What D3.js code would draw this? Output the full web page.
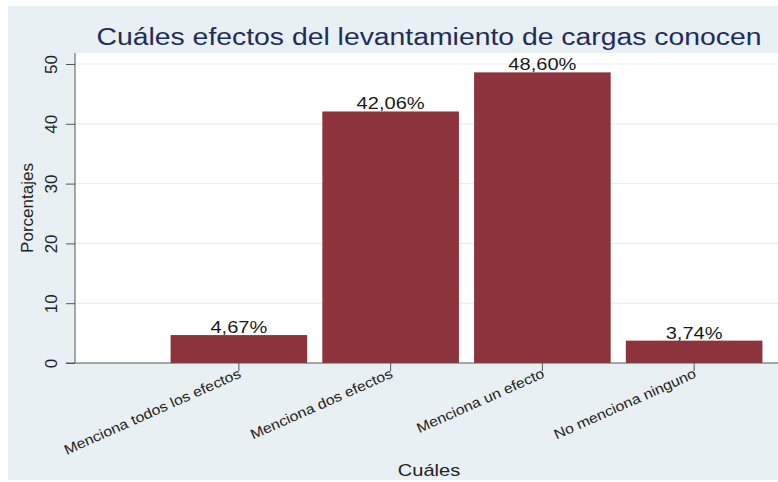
<!DOCTYPE html>
<html>
<head>
<meta charset="utf-8">
<script src="https://cdn.jsdelivr.net/npm/d3@7"></script>
<style>
  body { margin: 0; background: #ffffff; }
  text { font-family: "Liberation Sans", Arial, sans-serif; }
</style>
</head>
<body>
<div id="chart"></div>
<script>
// datos
var categorias = ["Menciona todos los efectos", "Menciona dos efectos", "Menciona un efecto", "No menciona ninguno"];
var porcentajes = [4.67, 42.06, 48.60, 3.74];
var ticksY = [0, 10, 20, 30, 40, 50];

var width = 778,
    height = 482;

var svg = d3.select("#chart")
  .append("svg")
  .attr("width", width)
  .attr("height", height);

// el texto del original sale algo ensanchado
function ensanchar(sel, f) {
  sel.each(function() {
    var w = this.getComputedTextLength();
    d3.select(this).attr("textLength", w * f).attr("lengthAdjust", "spacingAndGlyphs");
  });
}

// fondo exterior
svg.append("rect")
  .attr("x", 8).attr("y", 6)
  .attr("width", width - 8).attr("height", 474)
  .attr("fill", "#e8f0f3");

// area del grafico
var plot = { left: 75, right: 778, top: 53, bottom: 363 };

svg.append("rect")
  .attr("x", plot.left).attr("y", plot.top)
  .attr("width", plot.right - plot.left).attr("height", plot.bottom - plot.top)
  .attr("fill", "#ffffff");

var y = d3.scaleLinear()
  .domain([0, 50])
  .range([363, 64]);

var x = d3.scaleBand()
  .domain(categorias)
  .range([163, 770])
  .paddingInner(0.1)
  .paddingOuter(0.05);

// rejilla
svg.selectAll(".grid")
  .data(ticksY.slice(1))
  .enter().append("line")
  .attr("x1", plot.left).attr("x2", plot.right)
  .attr("y1", function(d) { return y(d); })
  .attr("y2", function(d) { return y(d); })
  .attr("stroke", "#e6eef1")
  .attr("stroke-width", 1.2);

// barras
svg.selectAll(".bar")
  .data(porcentajes)
  .enter().append("rect")
  .attr("x", function(d, i) { return x(categorias[i]); })
  .attr("width", x.bandwidth())
  .attr("y", function(d) { return y(d); })
  .attr("height", function(d) { return y(0) - y(d); })
  .attr("fill", "#8c333b");

// etiquetas de valor
var labs = svg.selectAll(".lab")
  .data(porcentajes)
  .enter().append("text")
  .attr("x", function(d, i) { return x(categorias[i]) + x.bandwidth() / 2; })
  .attr("y", function(d) { return y(d) - 2; })
  .attr("text-anchor", "middle")
  .attr("font-size", 17)
  .attr("fill", "#1a1a1a")
  .text(function(d) { return d.toFixed(2).replace(".", ",") + "%"; });
ensanchar(labs, 1.18);

// eje Y
var yAxis = svg.append("g")
  .attr("transform", "translate(" + plot.left + ",0)")
  .call(d3.axisLeft(y).tickValues(ticksY).tickSize(9).tickPadding(6));
yAxis.select(".domain").attr("stroke", "#555").attr("d", "M0," + plot.top + "V" + plot.bottom);
yAxis.selectAll(".tick line").attr("stroke", "#555");
yAxis.selectAll(".tick text")
  .attr("font-size", 17)
  .attr("fill", "#222")
  .attr("transform", "rotate(-90)")
  .attr("x", 0)
  .attr("dy", 0)
  .attr("y", -18)
  .attr("text-anchor", "middle");

// eje X
var xAxis = svg.append("g")
  .attr("transform", "translate(0," + plot.bottom + ")")
  .call(d3.axisBottom(x).tickSize(8).tickSizeOuter(0));
xAxis.select(".domain").attr("stroke", "#555").attr("d", "M66,0H" + plot.right);
xAxis.selectAll(".tick line").attr("stroke", "#555");
var xt = xAxis.selectAll(".tick text")
  .attr("font-size", 14)
  .attr("fill", "#222")
  .attr("text-anchor", "end")
  .attr("dy", 0)
  .attr("y", 0)
  .attr("transform", "translate(3,14) rotate(-24)");
ensanchar(xt, 1.13);

// titulos
svg.append("text")
  .attr("x", 429).attr("y", 45)
  .attr("text-anchor", "middle")
  .attr("font-size", 23)
  .attr("fill", "#1e2d5c")
  .attr("textLength", 665)
  .attr("lengthAdjust", "spacingAndGlyphs")
  .text("Cuáles efectos del levantamiento de cargas conocen");

var xt2 = svg.append("text")
  .attr("x", 429).attr("y", 476)
  .attr("text-anchor", "middle")
  .attr("font-size", 17)
  .attr("fill", "#222")
  .text("Cuáles");
ensanchar(xt2, 1.18);

svg.append("text")
  .attr("transform", "translate(33,208) rotate(-90)")
  .attr("text-anchor", "middle")
  .attr("font-size", 17)
  .attr("fill", "#222")
  .text("Porcentajes");
</script>
</body>
</html>
